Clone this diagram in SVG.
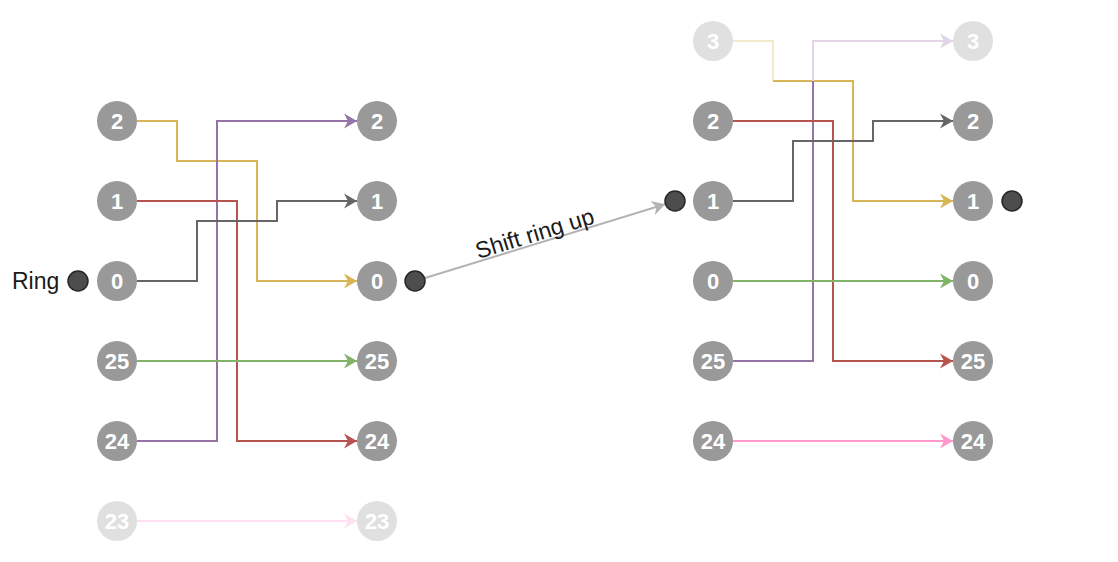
<svg xmlns="http://www.w3.org/2000/svg" width="1118" height="562" viewBox="0 0 1118 562">
<style>
.n{fill:#999999}
.nf{fill:#e0e0e0}
.t{fill:#ffffff;font-family:"Liberation Sans",Arial,sans-serif;font-size:22px;font-weight:bold;text-anchor:middle;dominant-baseline:central}
.dot{fill:#4d4d4d;stroke:#262626;stroke-width:1.5}
.e{fill:none;stroke-width:2}
.lbl{fill:#1a1a1a;font-family:"Liberation Sans",Arial,sans-serif;font-size:23px}
</style>
<defs>
<marker id="aY" viewBox="0 0 13 16" refX="13" refY="8" markerWidth="13" markerHeight="16" markerUnits="userSpaceOnUse" orient="auto"><path d="M13,8 L0,0.5 L4,8 L0,15.5 Z" fill="#d6b656"/></marker>
<marker id="aP" viewBox="0 0 13 16" refX="13" refY="8" markerWidth="13" markerHeight="16" markerUnits="userSpaceOnUse" orient="auto"><path d="M13,8 L0,0.5 L4,8 L0,15.5 Z" fill="#9673a6"/></marker>
<marker id="aR" viewBox="0 0 13 16" refX="13" refY="8" markerWidth="13" markerHeight="16" markerUnits="userSpaceOnUse" orient="auto"><path d="M13,8 L0,0.5 L4,8 L0,15.5 Z" fill="#b85450"/></marker>
<marker id="aK" viewBox="0 0 13 16" refX="13" refY="8" markerWidth="13" markerHeight="16" markerUnits="userSpaceOnUse" orient="auto"><path d="M13,8 L0,0.5 L4,8 L0,15.5 Z" fill="#666666"/></marker>
<marker id="aG" viewBox="0 0 13 16" refX="13" refY="8" markerWidth="13" markerHeight="16" markerUnits="userSpaceOnUse" orient="auto"><path d="M13,8 L0,0.5 L4,8 L0,15.5 Z" fill="#82b366"/></marker>
<marker id="aPk" viewBox="0 0 13 16" refX="13" refY="8" markerWidth="13" markerHeight="16" markerUnits="userSpaceOnUse" orient="auto"><path d="M13,8 L0,0.5 L4,8 L0,15.5 Z" fill="#ff99cc"/></marker>
<marker id="aPkF" viewBox="0 0 13 16" refX="13" refY="8" markerWidth="13" markerHeight="16" markerUnits="userSpaceOnUse" orient="auto"><path d="M13,8 L0,0.5 L4,8 L0,15.5 Z" fill="#ffe0f0"/></marker>
<marker id="aPF" viewBox="0 0 13 16" refX="13" refY="8" markerWidth="13" markerHeight="16" markerUnits="userSpaceOnUse" orient="auto"><path d="M13,8 L0,0.5 L4,8 L0,15.5 Z" fill="#e1d5e7"/></marker>
<marker id="aS" viewBox="0 0 13 16" refX="13" refY="8" markerWidth="13" markerHeight="16" markerUnits="userSpaceOnUse" orient="auto"><path d="M13,8 L0,0.5 L4,8 L0,15.5 Z" fill="#b3b3b3"/></marker>
</defs>
<rect width="1118" height="562" fill="#ffffff"/>
<g id="connectors">
<path class="e" stroke="#d6b656" d="M137,121 H177 V161 H257 V281 H357" marker-end="url(#aY)"/>
<path class="e" stroke="#9673a6" d="M137,441 H217 V121 H357" marker-end="url(#aP)"/>
<path class="e" stroke="#b85450" d="M137,201 H237 V441 H357" marker-end="url(#aR)"/>
<path class="e" stroke="#666666" d="M137,281 H197 V221 H277 V201 H357" marker-end="url(#aK)"/>
<path class="e" stroke="#82b366" d="M137,361 H357" marker-end="url(#aG)"/>
<path class="e" stroke="#ffe0f0" d="M137,521 H357" marker-end="url(#aPkF)"/>
<path class="e" stroke="#b3b3b3" stroke-width="1.5" d="M425,278 L665,204.3" marker-end="url(#aS)"/>
<text class="lbl" text-anchor="middle" transform="translate(537,241) rotate(-17.1)">Shift ring up</text>
<path class="e" stroke="#f3e9cc" d="M733,41 H773 V81"/>
<path class="e" stroke="#d6b656" d="M773,81 H853 V201 H953" marker-end="url(#aY)"/>
<path class="e" stroke="#9673a6" d="M733,361 H813 V81"/>
<path class="e" stroke="#e1d5e7" d="M813,81 V41 H953" marker-end="url(#aPF)"/>
<path class="e" stroke="#b85450" d="M733,121 H833 V361 H953" marker-end="url(#aR)"/>
<path class="e" stroke="#666666" d="M733,201 H793 V141 H873 V121 H953" marker-end="url(#aK)"/>
<path class="e" stroke="#82b366" d="M733,281 H953" marker-end="url(#aG)"/>
<path class="e" stroke="#ff99cc" d="M733,441 H953" marker-end="url(#aPk)"/>
</g>
<g id="ring-label"><text class="lbl" x="12" y="289">Ring</text></g>
<g id="ring-dot-1"><circle class="dot" cx="78" cy="281" r="10"/></g>
<g id="ring-dot-2"><circle class="dot" cx="415" cy="281" r="10"/></g>
<g id="ring-dot-3"><circle class="dot" cx="675" cy="201" r="10"/></g>
<g id="ring-dot-4"><circle class="dot" cx="1012" cy="201" r="10"/></g>
<g id="a2"><circle class="n" cx="117" cy="121" r="20"/><text class="t" x="117" y="121">2</text></g>
<g id="a1"><circle class="n" cx="117" cy="201" r="20"/><text class="t" x="117" y="201">1</text></g>
<g id="a0"><circle class="n" cx="117" cy="281" r="20"/><text class="t" x="117" y="281">0</text></g>
<g id="a25"><circle class="n" cx="117" cy="361" r="20"/><text class="t" x="117" y="361">25</text></g>
<g id="a24"><circle class="n" cx="117" cy="441" r="20"/><text class="t" x="117" y="441">24</text></g>
<g id="a23"><circle class="nf" cx="117" cy="521" r="20"/><text class="t" x="117" y="521">23</text></g>
<g id="b2"><circle class="n" cx="377" cy="121" r="20"/><text class="t" x="377" y="121">2</text></g>
<g id="b1"><circle class="n" cx="377" cy="201" r="20"/><text class="t" x="377" y="201">1</text></g>
<g id="b0"><circle class="n" cx="377" cy="281" r="20"/><text class="t" x="377" y="281">0</text></g>
<g id="b25"><circle class="n" cx="377" cy="361" r="20"/><text class="t" x="377" y="361">25</text></g>
<g id="b24"><circle class="n" cx="377" cy="441" r="20"/><text class="t" x="377" y="441">24</text></g>
<g id="b23"><circle class="nf" cx="377" cy="521" r="20"/><text class="t" x="377" y="521">23</text></g>
<g id="c3"><circle class="nf" cx="713" cy="41" r="20"/><text class="t" x="713" y="41">3</text></g>
<g id="c2"><circle class="n" cx="713" cy="121" r="20"/><text class="t" x="713" y="121">2</text></g>
<g id="c1"><circle class="n" cx="713" cy="201" r="20"/><text class="t" x="713" y="201">1</text></g>
<g id="c0"><circle class="n" cx="713" cy="281" r="20"/><text class="t" x="713" y="281">0</text></g>
<g id="c25"><circle class="n" cx="713" cy="361" r="20"/><text class="t" x="713" y="361">25</text></g>
<g id="c24"><circle class="n" cx="713" cy="441" r="20"/><text class="t" x="713" y="441">24</text></g>
<g id="d3"><circle class="nf" cx="973" cy="41" r="20"/><text class="t" x="973" y="41">3</text></g>
<g id="d2"><circle class="n" cx="973" cy="121" r="20"/><text class="t" x="973" y="121">2</text></g>
<g id="d1"><circle class="n" cx="973" cy="201" r="20"/><text class="t" x="973" y="201">1</text></g>
<g id="d0"><circle class="n" cx="973" cy="281" r="20"/><text class="t" x="973" y="281">0</text></g>
<g id="d25"><circle class="n" cx="973" cy="361" r="20"/><text class="t" x="973" y="361">25</text></g>
<g id="d24"><circle class="n" cx="973" cy="441" r="20"/><text class="t" x="973" y="441">24</text></g>
</svg>
